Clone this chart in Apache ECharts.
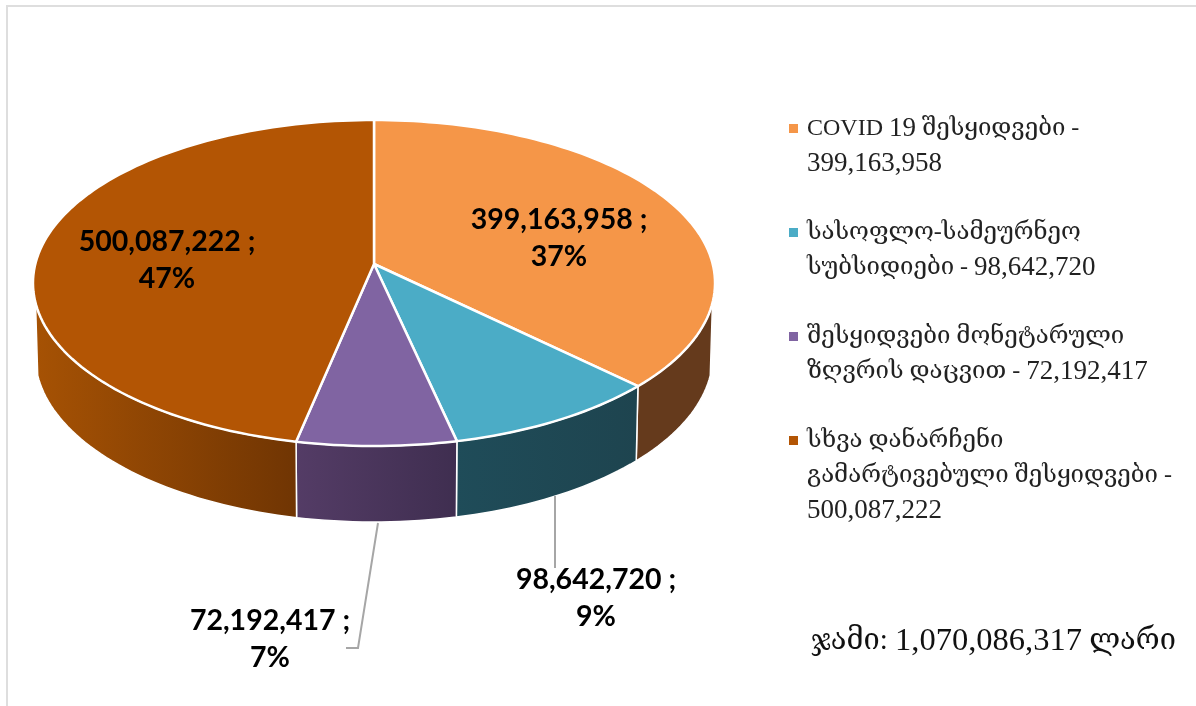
<!DOCTYPE html>
<html>
<head>
<meta charset="utf-8">
<style>
  html, body { margin: 0; padding: 0; background: #fff; }
  #main { width: 1196px; height: 706px; }
</style>
<script src="https://cdn.jsdelivr.net/npm/echarts@6/dist/echarts.min.js"></script>
</head>
<body>
<div id="main"></div>
<script>
const categories = [
  'COVID 19 შესყიდვები - 399,163,958',
  'სასოფლო-სამეურნეო სუბსიდიები - 98,642,720',
  'შესყიდვები მონეტარული ზღვრის დაცვით - 72,192,417',
  'სხვა დანარჩენი გამარტივებული შესყიდვები - 500,087,222'
]
const legendLines = [
  ['COVID 19 შესყიდვები -', '399,163,958'],
  ['სასოფლო-სამეურნეო', 'სუბსიდიები - 98,642,720'],
  ['შესყიდვები მონეტარული', 'ზღვრის დაცვით - 72,192,417'],
  ['სხვა დანარჩენი', 'გამარტივებული შესყიდვები -', '500,087,222']
]
const values = [399163958, 98642720, 72192417, 500087222]
const totalText = 'ჯამი: 1,070,086,317 ლარი'

const topColors = ['#f59648', '#4bacc6', '#8064a2', '#b35504']
const sideColors = [
  ['#653a1c', '#653a1c'],
  ['#1f4c59', '#1e444f'],
  ['#543c66', '#3f2e50'],
  ['#a65204', '#703503']
]
// label centres and leader lines, in pixels
const labelPos = [[559, 238], [596, 598], [270, 639], [167, 260]]
const leaders = [null, [[555, 496], [555, 568]], [[378, 523], [358, 648], [346, 648]], null]

// perspective disc: top face and bottom face of the pie
const topDisc = { x: 374, y: 264, a: 338.7, b: 160.8 }
const botDisc = { x: 374, y: 335.6, a: 336.5, b: 164.7 }
const tilt = -0.1166
const sideFrom = 103.6
const sideTo = 256.4

const total = values.reduce((a, b) => a + b, 0)

// theta is clockwise from the top of the pie, in degrees
function project(disc, theta) {
  const r = theta * Math.PI / 180
  const X = Math.sin(r), Y = -Math.cos(r)
  const w = 1 + tilt * Y
  return [disc.x + disc.a * X / w, disc.y + disc.b * Y / w]
}
function rim(disc, from, to) {
  const pts = []
  const n = Math.max(2, Math.ceil(Math.abs(to - from) / 1.5))
  for (let i = 0; i <= n; i++) pts.push(project(disc, from + (to - from) * i / n))
  return pts
}

function renderSlice(params, api) {
  const idx = params.seriesIndex
  const before = values.slice(0, idx).reduce((a, b) => a + b, 0)
  const start = before / total * 360
  const end = (before + values[idx]) / total * 360
  const children = []

  // side wall, only the part facing us
  const s = Math.max(start, sideFrom), e = Math.min(end, sideTo)
  if (e > s) {
    const wall = rim(topDisc, s, e).concat(rim(botDisc, e, s))
    children.push({
      type: 'polygon',
      shape: { points: wall },
      style: {
        fill: new echarts.graphic.LinearGradient(0, 0, 1, 0, [
          { offset: 0, color: sideColors[idx][0] },
          { offset: 1, color: sideColors[idx][1] }
        ]),
        stroke: '#fff',
        lineWidth: 1.5
      }
    })
  }

  // top face
  children.push({
    type: 'polygon',
    shape: { points: [[topDisc.x, topDisc.y]].concat(rim(topDisc, start, end)) },
    style: { fill: topColors[idx], stroke: '#fff', lineWidth: 2.5, lineJoin: 'round' }
  })

  if (leaders[idx]) {
    children.push({
      type: 'polyline',
      shape: { points: leaders[idx] },
      style: { fill: null, stroke: '#a6a6a6', lineWidth: 2 }
    })
  }

  children.push({
    type: 'text',
    z2: 10,
    style: {
      text: api.value(0).toLocaleString('en-US') + ' ;\n' + Math.round(values[idx] / total * 100) + '%',
      x: labelPos[idx][0],
      y: labelPos[idx][1],
      align: 'center',
      verticalAlign: 'middle',
      font: 'bold 28.5px Lato',
      lineHeight: 37,
      fill: '#000'
    }
  })
  return { type: 'group', children }
}

// digits are set a little larger than the georgian text
function toRich(line) {
  return line.split(/(\d[\d,]*)/).filter(t => t).map(t => /^\d/.test(t) ? `{num|${t}}` : `{txt|${t}}`).join('')
}

const rich = {
  pad: { width: 18, lineHeight: 35 },
  pad2: { width: 9, lineHeight: 35 },
  txt: { fontSize: 24, lineHeight: 35 },
  num: { fontSize: 27, lineHeight: 35 }
}
topColors.forEach((c, i) => {
  rich['sq' + i] = { width: 9, height: 9, backgroundColor: c, verticalAlign: 'middle' }
})

const serif = '"Liberation Serif", "DejaVu Serif"'
const chart = echarts.init(document.getElementById('main'))
chart.setOption({
  animation: false,
  title: {
    text: toRich(totalText),
    left: 806,
    top: 620,
    textStyle: {
      fontFamily: serif,
      fontWeight: 'normal',
      color: '#111',
      rich: {
        txt: { fontFamily: serif, fontSize: 29, color: '#111' },
        num: { fontFamily: serif, fontSize: 32.5, color: '#111' }
      }
    }
  },
  legend: {
    orient: 'vertical',
    left: 779,
    top: 106,
    selectedMode: false,
    icon: 'none',
    itemWidth: 0,
    itemHeight: 0,
    itemGap: 34,
    data: categories,
    formatter: name => {
      const i = categories.indexOf(name)
      return legendLines[i].map((line, j) => (j === 0 ? `{sq${i}|}{pad2|}` : '{pad|}') + toRich(line)).join('\n')
    },
    textStyle: {
      fontFamily: serif,
      fontSize: 24,
      color: '#222',
      lineHeight: 35,
      rich
    }
  },
  graphic: [
    { type: 'rect', silent: true, shape: { x: 7, y: 6, width: 1300, height: 800 }, style: { fill: null, stroke: '#dedede', lineWidth: 2 } }
  ],
  series: categories.map((name, i) => ({
    type: 'custom',
    name,
    coordinateSystem: 'none',
    itemStyle: { color: topColors[i] },
    renderItem: renderSlice,
    data: [values[i]]
  }))
})
</script>
</body>
</html>
